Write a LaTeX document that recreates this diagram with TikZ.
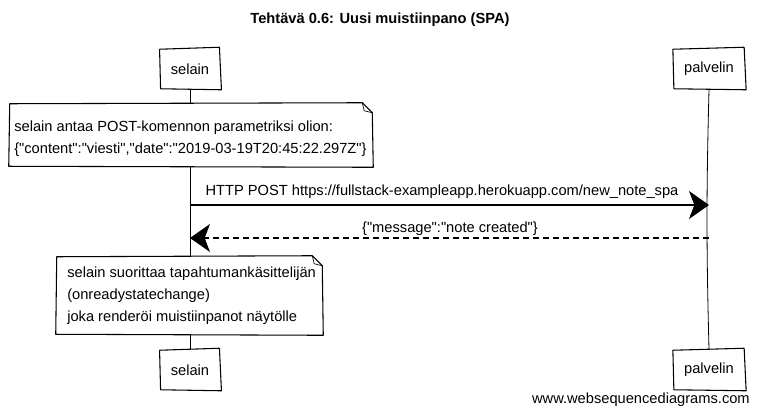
\documentclass[tikz,border=0pt]{standalone}
\usepackage{fontspec}
\setmainfont{Liberation Sans}[Ligatures=TeXOff]
\usetikzlibrary{arrows.meta,fit,calc}
\newcommand{\handbox}[1]{%
  \draw[hand] ([shift={(0,1)}]#1.north west) -- ([shift={(-1,-1)}]#1.north east) -- ([shift={(1,0)}]#1.south east) -- ([shift={(1,-1)}]#1.south west) -- cycle;}
\newcommand{\handnote}[1]{%
  \draw[hand] ([shift={(0,1)}]#1.north west) -- ([shift={(-10,0)}]#1.north east) -- ([shift={(0,10)}]#1.north east) -- ([shift={(1,0)}]#1.south east) -- ([shift={(-1,-1)}]#1.south west) -- cycle;
  \draw[hand, line width=0.5pt] ([shift={(-10,0)}]#1.north east) -- ([shift={(-8,8)}]#1.north east) -- ([shift={(0,10)}]#1.north east);}
\begin{document}
\begin{tikzpicture}[x=0.75pt,y=-0.75pt,
  hand/.style={draw=black, line width=0.8pt, line join=round},
  actor/.style={minimum height=30.75pt, inner xsep=8.25pt, inner ysep=0pt, font=\fontsize{11}{13}\selectfont},
  txt/.style={font=\fontsize{11}{16.5}\selectfont, align=left, inner sep=0pt},
  lbl/.style={font=\fontsize{11}{13}\selectfont, inner sep=0pt},
  life/.style={draw=black, line width=0.6pt},
  msg/.style={draw=black, line width=0.9pt, -{Stealth[length=15pt,width=21pt,inset=4pt]}},
  ret/.style={msg, dash pattern=on 4.5pt off 3pt},
]
\useasboundingbox (0,0) rectangle (759,415);
\fill[white] (0,0) rectangle (759,415);

\node[font=\bfseries\fontsize{11}{13}\selectfont, inner sep=0pt] (title) at (380,20) {Tehtävä 0.6: Uusi muistiinpano (SPA)};

% actors
\node[actor] (s1) at (190,69) {selain};
\node[actor] (p1) at (709,69) {palvelin};
\node[actor] (s2) at (190,370) {selain};
\node[actor] (p2) at (709,370) {palvelin};
\handbox{s1}
\handbox{p1}
\handbox{s2}
\handbox{p2}

% notes
\node[fit={(10,103) (372,167)}, inner sep=0pt] (n1) {};
\node[txt, anchor=west] (n1t) at (14,139) {selain antaa POST-komennon parametriksi olion:\\\{"content":"viesti","date":"2019-03-19T20:45:22.297Z"\}};
\handnote{n1}

\node[fit={(57,256) (322,335)}, inner sep=0pt] (n2) {};
\node[txt, anchor=west] (n2t) at (67,296) {selain suorittaa tapahtumankäsittelijän\\(onreadystatechange)\\joka renderöi muistiinpanot näytölle};
\handnote{n2}

% lifelines
\draw[life] (s1.south) -- (s1.south |- n1.north);
\draw[life] (s1.south |- n1.south) -- (s1.south |- n2.north);
\draw[life] (s1.south |- n2.south) -- (s2.north);
\draw[life] (p1.south) to[bend right=1.5] (p2.north);

% messages
\coordinate (a1s) at (190,205);
\coordinate (a1e) at (709,205);
\draw[msg] (a1s) -- (a1e);
\node[lbl] (m1) at (442,192) {HTTP POST https://fullstack-exampleapp.herokuapp.com/new\_note\_spa};

\coordinate (a2s) at (709,238);
\coordinate (a2e) at (190,238);
\draw[ret] (a2s) -- (a2e);
\node[lbl] (m2) at (450,229) {\{"message":"note created"\}};

\node[lbl, anchor=east] (wm) at (750,400) {www.websequencediagrams.com};
\end{tikzpicture}
\end{document}
